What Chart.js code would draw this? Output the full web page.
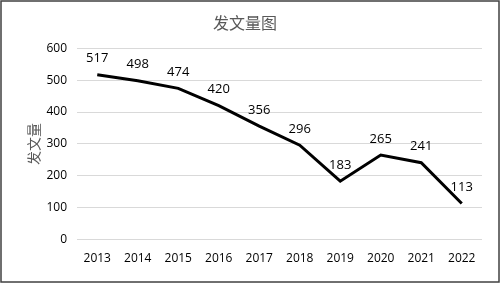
<!DOCTYPE html>
<html>
<head>
<meta charset="utf-8">
<script src="https://cdn.jsdelivr.net/npm/chart.js@4/dist/chart.umd.min.js"></script>
<style>
html,body{margin:0;padding:0;background:#fff;}
#wrap{width:500px;height:283px;position:relative;}
</style>
</head>
<body>
<div id="wrap"><canvas id="c" width="500" height="283"></canvas></div>
<script>
const categories = ['2013','2014','2015','2016','2017','2018','2019','2020','2021','2022'];
const counts = [517, 498, 474, 420, 356, 296, 183, 265, 241, 113];
const titleText = '发文量图';
const yTitle = '发文量';

const labelPlugin = {
  id: 'valueLabels',
  afterDatasetsDraw(chart) {
    const ctx = chart.ctx;
    const meta = chart.getDatasetMeta(0);
    ctx.save();
    ctx.font = '13px "Open Sans", "Liberation Sans", sans-serif';
    ctx.fillStyle = '#000';
    ctx.textAlign = 'center';
    ctx.textBaseline = 'middle';
    meta.data.forEach((pt, i) => {
      ctx.fillText(String(counts[i]), pt.x, pt.y - 16);
    });
    ctx.restore();
  }
};
const borderPlugin = {
  id: 'frame',
  afterDraw(chart) {
    const ctx = chart.ctx;
    ctx.save();
    ctx.strokeStyle = '#404040';
    ctx.lineWidth = 1.5;
    ctx.strokeRect(1, 1, chart.width - 2, chart.height - 2);
    ctx.restore();
  },
  beforeDraw(chart) {
    const ctx = chart.ctx;
    ctx.save();
    ctx.fillStyle = '#fff';
    ctx.fillRect(0, 0, chart.width, chart.height);
    ctx.restore();
  }
};

new Chart(document.getElementById('c'), {
  type: 'line',
  data: {
    labels: categories,
    datasets: [{
      data: counts,
      borderColor: '#000',
      borderWidth: 3,
      pointRadius: 0,
      tension: 0,
      fill: false
    }]
  },
  options: {
    responsive: false,
    animation: false,
    devicePixelRatio: 1,
    layout: { padding: { left: 8, right: 18, top: 9, bottom: 5 } },
    plugins: {
      legend: { display: false },
      tooltip: { enabled: false },
      title: {
        display: true,
        text: titleText,
        color: '#595959',
        font: { family: '"Noto Sans CJK SC", sans-serif', size: 16, weight: 'normal' },
        padding: { top: 4, bottom: 16 }
      }
    },
    scales: {
      x: {
        offset: true,
        grid: { display: false, drawTicks: false },
        border: { display: false },
        ticks: {
          color: '#000',
          font: { family: '"Open Sans", "Liberation Sans", sans-serif', size: 12 },
          padding: 12,
          maxRotation: 0
        }
      },
      y: {
        min: 0, max: 600,
        afterFit(scale) { scale.width = 69; },
        ticks: {
          stepSize: 100,
          color: '#000',
          font: { family: '"Open Sans", "Liberation Sans", sans-serif', size: 12 },
          padding: 10
        },
        grid: { color: '#d9d9d9', lineWidth: 1, drawTicks: false },
        border: { display: false },
        title: {
          display: true,
          text: yTitle,
          color: '#595959',
          font: { family: '"Noto Sans CJK SC", sans-serif', size: 14 },
          padding: { top: 17, bottom: 6 }
        }
      }
    }
  },
  plugins: [labelPlugin, borderPlugin]
});
</script>
</body>
</html>
